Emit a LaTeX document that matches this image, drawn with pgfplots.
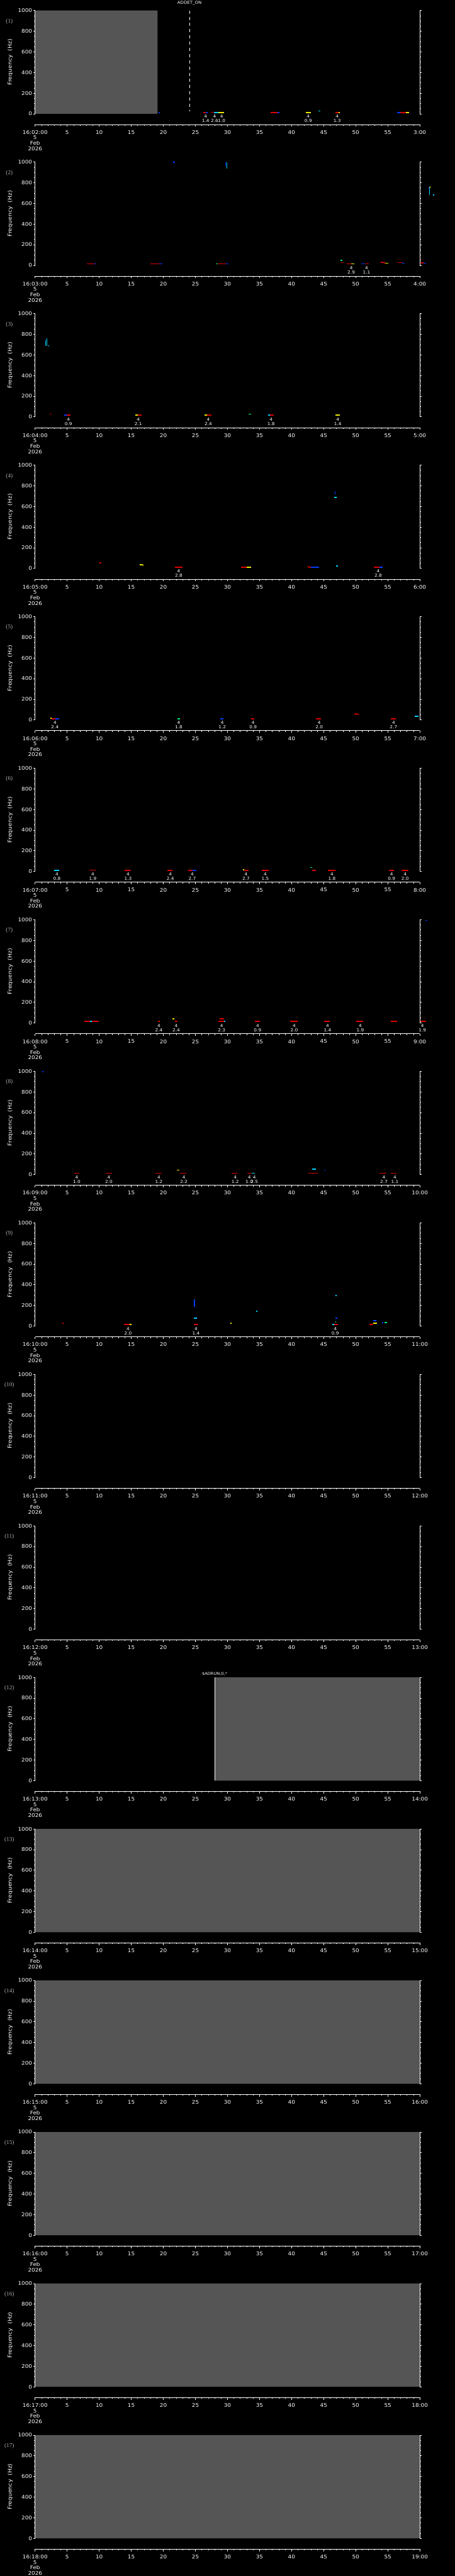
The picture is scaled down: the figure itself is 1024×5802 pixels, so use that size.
\documentclass[border=0pt]{standalone}
\usepackage{pgfplots}
\pgfplotsset{compat=1.18}
\usepackage{fontspec}
\setmainfont{DejaVu Sans}[FakeStretch=1.1]
\newfontfamily\panfont{Liberation Serif}
\newcommand{\tickfont}{\fontsize{11.4}{12.2}\selectfont}
\newcommand{\labfont}{\fontsize{12}{14}\selectfont}
\newcommand{\evfont}{\fontsize{9.5}{10}\selectfont}
\definecolor{gry}{RGB}{85,85,85}
\definecolor{lgr}{RGB}{175,175,175}
\definecolor{er}{RGB}{220,0,0}
\definecolor{ey}{RGB}{235,235,0}
\definecolor{eb}{RGB}{0,60,255}
\definecolor{ec}{RGB}{0,210,255}
\definecolor{eg}{RGB}{0,235,120}
\pgfplotsset{
  mainax/.style={
    scale only axis, width=866pt, height=232.6pt, anchor=north west,
    xmin=0, xmax=60, ymin=0, ymax=1000,
    clip=false, axis on top,
    axis x line=none, axis y line=box,
    y axis line style={white, line width=1pt},
    xtick=\empty,
    ytick={0,200,400,600,800,1000}, yticklabels={0,200,400,600,800,1000},
    minor y tick num=3,
    tick align=outside, major tick length=4pt, minor tick length=2pt,
    tick style={white, line width=1pt},
    yticklabel style={font=\tickfont, text=white, inner sep=2.5pt},
    ylabel={Frequency\ \ (Hz)},
    ylabel style={font=\labfont, text=white, at={(axis description cs:-0.0647,0.5)}, anchor=center},
  },
  timeax/.style={
    scale only axis, width=866pt, height=1pt, anchor=south west,
    xmin=0, xmax=60, ymin=0, ymax=1,
    axis x line=bottom, axis y line=none,
    x axis line style={-, white, line width=1pt},
    xtick={0,5,...,60}, minor x tick num=4,
    tick align=outside, major tick length=4.7pt, minor tick length=2.7pt,
    tick style={white, line width=1pt},
    xticklabel style={font=\tickfont, text=white, align=center, yshift=-5pt},
  },
}
\tikzset{
  evlab/.style={anchor=north, inner sep=0pt, yshift=-2.5pt, align=center, font=\evfont, text=white},
  panlab/.style={font=\panfont\fontsize{13}{14}\selectfont, text=lgr},
}
\newcommand{\ev}[4]{\addplot[#1, line width=2.5pt] coordinates {(#2,#4) (#3,#4)};}
\newcommand{\sev}[5]{\addplot[#1, line width=2.5pt] coordinates {(#2,#3) (#4,#5)};}
\newcommand{\vev}[4]{\addplot[#1, line width=1.5pt] coordinates {(#2,#3) (#2,#4)};}
\newcommand{\lab}[2]{\node[evlab] at (axis cs:#1,0) {4\\#2};}
\newcommand{\gryrect}[2]{\addplot[fill=gry, draw=none] coordinates {(#1,0) (#2,0) (#2,1000) (#1,1000) (#1,0)};}
\newcommand{\mainat}[1]{\pgfmathsetmacro{\my}{-(23.7+(#1-1)*341.3)}}
\newcommand{\pl}[1]{\node[panlab] at (axis description cs:-0.067,0.895) {(#1)};}
\newcommand{\timeaxis}[3]{%
  \pgfmathsetmacro{\ty}{-(23.7+(#1-1)*341.3+256.8)}%
  \begin{axis}[timeax, at={(79pt,\ty pt)}, xticklabels={{#2\\5\\Feb\\2026},5,10,15,20,25,30,35,40,45,50,55,#3}]
  \end{axis}}
\begin{document}
\begin{tikzpicture}
\fill[black] (0,0) rectangle (1024pt,-5802pt);
\useasboundingbox (0,0) rectangle (1024pt,-5802pt);
% ---------- panel 1
\mainat{1}
\begin{axis}[mainax, at={(79pt,\my pt)}]
\gryrect{0}{19.1}
\addplot[white, line width=1pt, dash pattern=on 7pt off 7pt] coordinates {(24.08,1000) (24.08,23)};
\node[text=white, font=\fontsize{9}{10}\selectfont] at (axis cs:24.08,1000) [yshift=17.4pt] {ADDET\_ON};
\ev{eb}{19.3}{19.5}{12}
\ev{er}{26.2}{26.6}{12} \ev{eb}{26.6}{26.9}{12}
\ev{er}{27.4}{27.9}{15} \ev{ec}{27.9}{28.6}{12} \ev{ey}{28.6}{29.5}{12}
\ev{er}{36.7}{37.8}{12} \ev{eb}{37.8}{38.1}{12}
\ev{ey}{42.2}{43.0}{12}
\ev{ec}{44.2}{44.5}{27}
\ev{er}{46.8}{47.3}{12} \ev{ey}{47.3}{47.5}{12}
\ev{eb}{56.5}{56.9}{12} \ev{er}{56.9}{57.8}{12} \ev{ey}{57.8}{58.3}{12}
\lab{26.6}{1.4} \lab{28.0}{2.6} \lab{29.1}{1.0} \lab{42.6}{0.9} \lab{47.1}{1.3}
\pl{1}
\end{axis}
\timeaxis{1}{16:02:00}{3:00}
% ---------- panel 2
\mainat{2}
\begin{axis}[mainax, at={(79pt,\my pt)}]
\ev{er}{8.1}{9.2}{14} \ev{eb}{9.2}{9.5}{14}
\ev{er}{18.0}{19.4}{14} \ev{eb}{19.4}{19.8}{14}
\ev{eb}{21.5}{21.8}{997}
\ev{eg}{28.2}{28.5}{14} \ev{er}{28.5}{29.8}{14} \ev{eb}{29.8}{30.2}{14}
\vev{ec}{29.9}{1000}{940} \vev{eb}{29.75}{1000}{960}
\ev{eg}{47.6}{47.9}{49}
\ev{er}{47.6}{48.1}{27}
\ev{er}{48.6}{49.3}{14} \ev{ey}{49.3}{49.8}{14}
\ev{eb}{50.9}{51.4}{14} \ev{er}{51.4}{52.0}{14}
\sev{er}{53.9}{31}{54.6}{24} \ev{ey}{54.6}{55.1}{21}
\ev{er}{56.6}{57.2}{27} \ev{eb}{57.2}{57.6}{21}
\sev{er}{60.1}{27}{60.6}{21} \ev{eb}{60.6}{61.0}{21}
\vev{ec}{61.55}{757}{683} \vev{eb}{61.4}{757}{740} \ev{ey}{61.5}{61.8}{757} \ev{ec}{62.0}{62.2}{683}
\lab{49.3}{2.9} \lab{51.7}{1.1}
\pl{2}
\end{axis}
\timeaxis{2}{16:03:00}{4:00}
% ---------- panel 3
\mainat{3}
\begin{axis}[mainax, at={(79pt,\my pt)}]
\vev{ec}{1.65}{740}{686} \vev{ec}{1.85}{759}{686} \ev{ec}{2.05}{2.2}{686}
\ev{er}{2.3}{2.6}{26}
\ev{eb}{4.5}{4.9}{17} \ev{er}{4.9}{5.5}{17}
\ev{ey}{15.6}{16.0}{17} \ev{er}{16.0}{16.6}{17}
\ev{ey}{26.4}{26.8}{17} \ev{er}{26.8}{27.5}{17}
\ev{eg}{33.3}{33.7}{26}
\ev{ec}{36.3}{36.6}{17} \ev{er}{36.6}{37.2}{17}
\ev{ey}{46.8}{47.5}{17}
\lab{5.2}{0.9} \lab{16.1}{2.1} \lab{27.0}{2.4} \lab{36.8}{1.8} \lab{47.2}{1.4}
\pl{3}
\end{axis}
\timeaxis{3}{16:04:00}{5:00}
% ---------- panel 4
\mainat{4}
\begin{axis}[mainax, at={(79pt,\my pt)}]
\ev{er}{10.0}{10.3}{54}
\sev{ey}{16.3}{37}{16.9}{32}
\ev{er}{21.8}{23.0}{11}
\ev{er}{32.1}{33.0}{11} \ev{ey}{33.0}{33.7}{11}
\sev{er}{42.5}{16}{43.0}{11} \ev{eb}{43.0}{44.3}{11}
\vev{eb}{46.75}{748}{720} \ev{ec}{46.6}{47.0}{688}
\ev{ec}{46.9}{47.2}{24}
\ev{er}{52.8}{53.7}{11} \ev{eb}{53.7}{54.2}{11}
\lab{22.4}{2.8} \lab{53.5}{2.8}
\pl{4}
\end{axis}
\timeaxis{4}{16:05:00}{6:00}
% ---------- panel 5
\mainat{5}
\begin{axis}[mainax, at={(79pt,\my pt)}]
\ev{ey}{2.4}{2.6}{15} \ev{er}{2.6}{3.2}{11} \ev{eb}{3.2}{3.8}{11}
\ev{eg}{22.2}{22.6}{11}
\ev{eb}{28.9}{29.4}{11}
\ev{er}{33.7}{34.2}{11}
\ev{er}{43.8}{44.6}{12}
\sev{er}{49.8}{58}{50.5}{54}
\ev{er}{55.5}{56.3}{12}
\ev{ec}{59.2}{59.8}{37}
\lab{3.1}{2.4} \lab{22.4}{1.8} \lab{29.2}{1.2} \lab{34.0}{0.9} \lab{44.3}{2.0} \lab{55.9}{2.7}
\pl{5}
\end{axis}
\timeaxis{5}{16:06:00}{7:00}
% ---------- panel 6
\mainat{6}
\begin{axis}[mainax, at={(79pt,\my pt)}]
\ev{ec}{3.0}{3.8}{11}
\ev{er}{8.5}{9.5}{13}
\ev{er}{14.0}{14.9}{11}
\ev{er}{20.6}{21.4}{12}
\ev{er}{23.9}{24.6}{11} \ev{eb}{24.6}{25.1}{11}
\ev{ey}{32.4}{32.6}{18} \ev{er}{32.6}{33.3}{11}
\ev{er}{35.4}{36.4}{11}
\ev{eg}{42.9}{43.2}{37} \ev{er}{43.2}{43.8}{11}
\ev{er}{45.7}{46.8}{11}
\ev{er}{55.2}{56.0}{11}
\ev{er}{57.1}{58.2}{11}
\lab{3.4}{0.8} \lab{9.0}{1.9} \lab{14.5}{1.3} \lab{21.1}{2.4} \lab{24.5}{2.7} \lab{32.9}{2.7} \lab{35.9}{1.5} \lab{46.3}{1.8} \lab{55.6}{0.9} \lab{57.7}{2.0}
\pl{6}
\end{axis}
\timeaxis{6}{16:07:00}{8:00}
% ---------- panel 7
\mainat{7}
\begin{axis}[mainax, at={(79pt,\my pt)}]
\ev{er}{7.7}{8.6}{15} \ev{ec}{8.6}{8.9}{15} \ev{er}{8.9}{9.9}{15}
\ev{er}{19.2}{19.5}{15}
\ev{ey}{21.4}{21.7}{41}
\ev{er}{21.8}{22.2}{15}
\ev{er}{28.8}{29.5}{41}
\ev{er}{28.6}{29.5}{15} \ev{ec}{29.5}{29.7}{15}
\ev{er}{34.3}{35.1}{15}
\ev{er}{39.8}{40.9}{15}
\ev{er}{45.1}{46.0}{15}
\ev{er}{50.1}{51.2}{15}
\ev{er}{55.5}{56.5}{15}
\ev{er}{60.0}{61.0}{15}
\ev{eb}{60.9}{61.2}{994}
\lab{19.3}{2.4} \lab{22.0}{2.4} \lab{29.1}{2.3} \lab{34.7}{0.9} \lab{40.4}{2.0} \lab{45.6}{1.4} \lab{50.7}{1.9} \lab{60.4}{1.9}
\pl{7}
\end{axis}
\timeaxis{7}{16:08:00}{9:00}
% ---------- panel 8
\mainat{8}
\begin{axis}[mainax, at={(79pt,\my pt)}]
\ev{eb}{1.1}{1.3}{996}
\ev{er}{6.1}{6.9}{13}
\ev{er}{11.0}{12.0}{13}
\ev{er}{18.8}{19.7}{13}
\ev{ey}{22.1}{22.5}{43}
\ev{er}{22.6}{23.6}{13}
\ev{er}{30.6}{31.6}{13}
\ev{er}{33.1}{33.8}{13} \ev{ec}{33.8}{34.3}{13}
\ev{er}{42.6}{44.1}{13}
\ev{ec}{43.2}{43.8}{52}
\ev{eb}{45.1}{45.3}{43}
\ev{er}{53.7}{54.8}{13}
\ev{er}{55.5}{56.4}{13}
\lab{6.5}{1.0} \lab{11.5}{2.0} \lab{19.3}{1.2} \lab{23.2}{2.2} \lab{31.2}{1.2} \lab{33.4}{1.0} \lab{34.2}{2.5} \lab{54.4}{2.7} \lab{56.1}{1.1}
\pl{8}
\end{axis}
\timeaxis{8}{16:09:00}{10:00}
% ---------- panel 9
\mainat{9}
\begin{axis}[mainax, at={(79pt,\my pt)}]
\ev{er}{4.2}{4.4}{28}
\ev{er}{13.9}{14.7}{15} \ev{ey}{14.7}{15.0}{15}
\vev{eb}{24.85}{257}{186}
\ev{ec}{24.8}{25.2}{74}
\ev{er}{24.8}{25.4}{15}
\ev{ey}{30.4}{30.6}{28}
\ev{ec}{34.5}{34.7}{143}
\ev{ec}{46.8}{47.0}{294}
\ev{eb}{46.8}{47.1}{78}
\ev{eg}{46.8}{46.9}{41}
\ev{ec}{46.3}{46.6}{15} \ev{er}{46.6}{47.2}{15}
\ev{er}{52.1}{52.7}{15} \ev{ey}{52.7}{53.3}{28}
\ev{eb}{52.7}{53.2}{50}
\ev{eb}{54.1}{54.3}{32}
\ev{eg}{54.5}{54.9}{34}
\lab{14.5}{2.0} \lab{25.1}{1.4} \lab{46.8}{0.9}
\pl{9}
\end{axis}
\timeaxis{9}{16:10:00}{11:00}
% ---------- panel 10
\mainat{10}
\begin{axis}[mainax, at={(79pt,\my pt)}]
\pl{10}
\end{axis}
\timeaxis{10}{16:11:00}{12:00}
% ---------- panel 11
\mainat{11}
\begin{axis}[mainax, at={(79pt,\my pt)}]
\pl{11}
\end{axis}
\timeaxis{11}{16:12:00}{13:00}
% ---------- panel 12
\mainat{12}
\begin{axis}[mainax, at={(79pt,\my pt)}]
\gryrect{28.0}{60}
\addplot[white, line width=0.8pt] coordinates {(28.0,0) (28.0,1000)};
\node[text=white, font=\fontsize{8.5}{10}\selectfont] at (axis cs:28.0,1000) [yshift=8pt] {\$ADRUN,0,*};
\pl{12}
\end{axis}
\timeaxis{12}{16:13:00}{14:00}
% ---------- panels 13-17
\mainat{13}
\begin{axis}[mainax, at={(79pt,\my pt)}]
\gryrect{0}{60}
\pl{13}
\end{axis}
\timeaxis{13}{16:14:00}{15:00}
\mainat{14}
\begin{axis}[mainax, at={(79pt,\my pt)}]
\gryrect{0}{60}
\pl{14}
\end{axis}
\timeaxis{14}{16:15:00}{16:00}
\mainat{15}
\begin{axis}[mainax, at={(79pt,\my pt)}]
\gryrect{0}{60}
\pl{15}
\end{axis}
\timeaxis{15}{16:16:00}{17:00}
\mainat{16}
\begin{axis}[mainax, at={(79pt,\my pt)}]
\gryrect{0}{60}
\pl{16}
\end{axis}
\timeaxis{16}{16:17:00}{18:00}
\mainat{17}
\begin{axis}[mainax, at={(79pt,\my pt)}]
\gryrect{0}{60}
\pl{17}
\end{axis}
\timeaxis{17}{16:18:00}{19:00}
\end{tikzpicture}
\end{document}
